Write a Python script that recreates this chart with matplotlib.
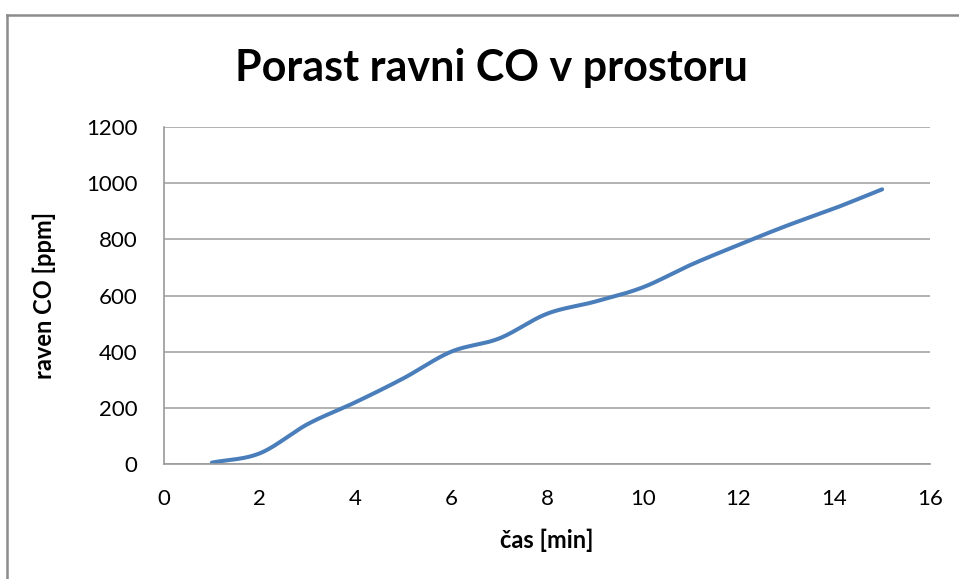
import numpy as np
import matplotlib
matplotlib.use("Agg")
import matplotlib.pyplot as plt
from matplotlib.lines import Line2D

time_min = [1, 2, 3, 4, 5, 6, 7, 8, 9, 10, 11, 12, 13, 14, 15]
co_ppm = [5, 38, 142, 220, 305, 400, 447, 535, 578, 629, 709, 780, 848, 910, 978]
x_ticks = [0, 2, 4, 6, 8, 10, 12, 14, 16]
y_ticks = [0, 200, 400, 600, 800, 1000, 1200]

title = "Porast ravni CO v prostoru"
xlabel = "čas [min]"
ylabel = "raven CO [ppm]"

FONT = ["Lato", "DejaVu Sans"]
plt.rcParams["font.family"] = FONT


def smooth(xs, ys, n=30):
    # Catmull-Rom style smoothing for drawing (like Excel's smoothed line)
    xs = np.asarray(xs, float)
    ys = np.asarray(ys, float)
    px = np.concatenate([[2 * xs[0] - xs[1]], xs, [2 * xs[-1] - xs[-2]]])
    py = np.concatenate([[2 * ys[0] - ys[1]], ys, [2 * ys[-1] - ys[-2]]])
    ox, oy = [], []
    for i in range(1, len(px) - 2):
        p0 = np.array([px[i], py[i]])
        p3 = np.array([px[i + 1], py[i + 1]])
        c1 = p0 + (np.array([px[i + 1], py[i + 1]]) - np.array([px[i - 1], py[i - 1]])) / 6
        c2 = p3 - (np.array([px[i + 2], py[i + 2]]) - p0) / 6
        t = np.linspace(0, 1, n, endpoint=(i == len(px) - 3))
        b = ((1 - t) ** 3)[:, None] * p0 + (3 * (1 - t) ** 2 * t)[:, None] * c1 \
            + (3 * (1 - t) * t ** 2)[:, None] * c2 + (t ** 3)[:, None] * p3
        ox.extend(b[:, 0])
        oy.extend(b[:, 1])
    return np.array(ox), np.array(oy)


W, H = 959, 579
fig = plt.figure(figsize=(W / 100, H / 100), dpi=100)
fig.patch.set_facecolor("white")

# outer chart frame (top and left visible)
fig.add_artist(Line2D([7 / W, 7 / W], [0, 1 - 15 / H], color="#8c8c8c", lw=1.8,
                      transform=fig.transFigure))
fig.add_artist(Line2D([7 / W, 1], [1 - 15 / H, 1 - 15 / H], color="#8c8c8c", lw=1.8,
                      transform=fig.transFigure))

ax = fig.add_axes([164 / W, 1 - 464 / H, (930 - 164) / W, (464 - 127) / H])
ax.set_xlim(0, 16)
ax.set_ylim(0, 1200)
ax.set_xticks(x_ticks)
ax.set_yticks(y_ticks)
ax.tick_params(length=0, labelsize=16, colors="#000000")
ax.tick_params(axis="y", pad=19)
ax.tick_params(axis="x", pad=18)
ax.grid(axis="y", color="#a6a6a6", lw=1.2)
ax.set_axisbelow(True)
for s in ["top", "right"]:
    ax.spines[s].set_visible(False)
for s in ["left", "bottom"]:
    ax.spines[s].set_color("#9a9a9a")
    ax.spines[s].set_linewidth(1.2)

sx, sy = smooth(time_min, co_ppm)
ax.plot(sx, sy, color="#4a7ebb", lw=2.9, solid_capstyle="round")

ax.set_xlabel(xlabel, fontsize=17, fontweight="bold", labelpad=14)
ax.set_ylabel(ylabel, fontsize=17, fontweight="bold", labelpad=22)

fig.text(491 / W, 1 - 68 / H, title, ha="center", va="center",
         fontsize=31, fontweight="bold")

fig.savefig("out.png", dpi=100)
